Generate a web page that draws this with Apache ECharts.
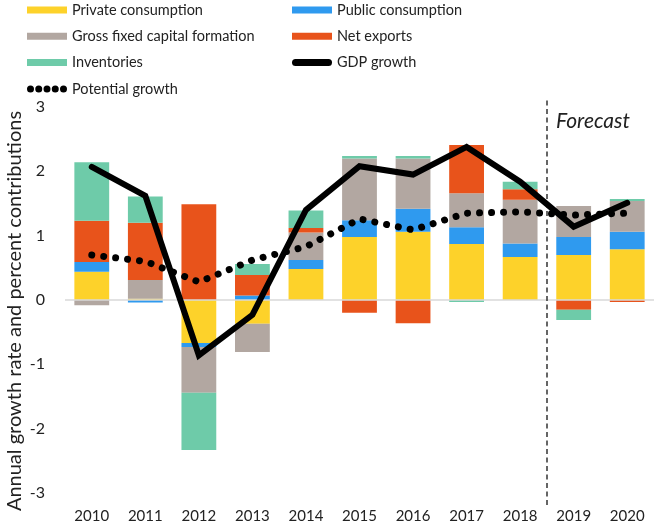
<!DOCTYPE html>
<html>
<head>
<meta charset="utf-8">
<script src="https://cdn.jsdelivr.net/npm/echarts@6/dist/echarts.min.js"></script>
<style>
html,body{margin:0;padding:0;background:#fff;}
#chart{width:660px;height:528px;}
</style>
</head>
<body>
<div id="chart"></div>
<script>
const years = ['2010','2011','2012','2013','2014','2015','2016','2017','2018','2019','2020'];
const privateConsumption = [0.44, 0.02, -0.67, -0.37, 0.48, 0.98, 1.06, 0.87, 0.67, 0.70, 0.79];
const publicConsumption  = [0.15, -0.04, -0.06, 0.07, 0.14, 0.26, 0.36, 0.26, 0.21, 0.28, 0.27];
const grossFixedCapital  = [-0.08, 0.29, -0.71, -0.44, 0.43, 0.96, 0.78, 0.53, 0.68, 0.48, 0.48];
const netExports         = [0.64, 0.89, 1.49, 0.32, 0.07, -0.20, -0.36, 0.75, 0.16, -0.15, -0.03];
const inventories        = [0.91, 0.41, -0.89, 0.17, 0.27, 0.04, 0.04, -0.03, 0.12, -0.16, 0.03];
const gdpGrowth          = [2.07, 1.62, -0.86, -0.23, 1.40, 2.08, 1.95, 2.38, 1.84, 1.14, 1.51];
const potentialGrowth    = [0.70, 0.60, 0.28, 0.62, 0.83, 1.26, 1.09, 1.35, 1.37, 1.32, 1.35];
const yTicks = [-3, -2, -1, 0, 1, 2, 3];
const forecastBoundary = 8.5; // between 2018 and 2019

const FONT = 'Lato';
const colors = {
  priv: '#FDD22A', pub: '#2F9AEF', gfcf: '#B2A7A1', net: '#E8531B', inv: '#6ECBA9'
};

const chart = echarts.init(document.getElementById('chart'));

const capsule = 'path://M3.5,0 H36.5 A3.5,3.5 0 0 1 36.5,7 H3.5 A3.5,3.5 0 0 1 3.5,0 Z';
const dots = 'path://M0,3.5 A3.5,3.5 0 1 0 7,3.5 A3.5,3.5 0 1 0 0,3.5 Z' +
  'M8.25,3.5 A3.5,3.5 0 1 0 15.25,3.5 A3.5,3.5 0 1 0 8.25,3.5 Z' +
  'M16.5,3.5 A3.5,3.5 0 1 0 23.5,3.5 A3.5,3.5 0 1 0 16.5,3.5 Z' +
  'M24.75,3.5 A3.5,3.5 0 1 0 31.75,3.5 A3.5,3.5 0 1 0 24.75,3.5 Z' +
  'M33,3.5 A3.5,3.5 0 1 0 40,3.5 A3.5,3.5 0 1 0 33,3.5 Z';

const legendCommon = {
  orient: 'vertical',
  itemWidth: 40,
  itemHeight: 7,
  itemGap: 6.3,
  itemStyle: { borderWidth: 0 },
  selectedMode: false,
  textStyle: { fontFamily: FONT, fontSize: 14.5, color: '#222', lineHeight: 20 },
  padding: 0
};

function bar(name, data, color) {
  return {
    name, type: 'bar', stack: 'contrib', data,
    barWidth: '65%',
    itemStyle: { color },
    emphasis: { disabled: true }
  };
}

const option = {
  animation: false,
  textStyle: { fontFamily: FONT },
  legend: [
    Object.assign({}, legendCommon, {
      left: 27, top: 0,
      data: [
        { name: 'Private consumption', icon: 'rect' },
        { name: 'Gross fixed capital formation', icon: 'rect' },
        { name: 'Inventories', icon: 'rect' },
        { name: 'Potential growth', icon: dots }
      ]
    }),
    Object.assign({}, legendCommon, {
      left: 292, top: 0,
      data: [
        { name: 'Public consumption', icon: 'rect' },
        { name: 'Net exports', icon: 'rect' },
        { name: 'GDP growth', icon: capsule }
      ]
    })
  ],
  grid: [
    { left: 65, right: 6, top: 107, bottom: 35 },
    { left: 65, right: 6, top: 100, bottom: 23 }
  ],
  xAxis: [
    {
      type: 'category', data: years, gridIndex: 0,
      axisLine: { show: false }, axisTick: { show: false },
      axisLabel: { fontFamily: FONT, fontSize: 15, color: '#222', margin: 16 }
    },
    { type: 'value', gridIndex: 1, min: -0.5, max: 10.5, show: false }
  ],
  yAxis: [
    {
      type: 'value', gridIndex: 0, min: yTicks[0], max: yTicks[yTicks.length - 1], interval: 1,
      axisLine: { show: false }, axisTick: { show: false }, splitLine: { show: false },
      axisLabel: { fontFamily: FONT, fontSize: 16, color: '#222', margin: 20 }
    },
    { type: 'value', gridIndex: 1, min: 0, max: 1, show: false }
  ],
  graphic: [
    {
      type: 'text', left: 556, top: 111,
      style: { text: 'Forecast', font: 'italic 21px ' + FONT, fill: '#222' }
    },
    {
      type: 'text', x: 15, y: 311, rotation: Math.PI / 2,
      style: {
        text: 'Annual growth rate and percent contributions',
        font: '20px ' + FONT, fill: '#222', align: 'center', verticalAlign: 'middle'
      }
    }
  ],
  series: [
    Object.assign(bar('Private consumption', privateConsumption, colors.priv), {
      markLine: {
        silent: true, symbol: 'none', label: { show: false },
        lineStyle: { color: '#d9d9d9', width: 1.5, type: 'solid' },
        data: [{ yAxis: 0 }]
      }
    }),
    bar('Public consumption', publicConsumption, colors.pub),
    bar('Gross fixed capital formation', grossFixedCapital, colors.gfcf),
    bar('Net exports', netExports, colors.net),
    bar('Inventories', inventories, colors.inv),
    {
      name: 'GDP growth', type: 'line', data: gdpGrowth,
      color: '#000', symbol: 'none', z: 5,
      lineStyle: { color: '#000', width: 6, cap: 'round', join: 'miter' }
    },
    {
      name: 'Potential growth', type: 'line', data: potentialGrowth,
      color: '#000', symbol: 'none', z: 6,
      lineStyle: { color: '#000', width: 7, type: [0.01, 12], cap: 'round' }
    },
    {
      name: 'boundary', type: 'line', xAxisIndex: 1, yAxisIndex: 1, data: [],
      markLine: {
        silent: true, symbol: 'none', label: { show: false },
        lineStyle: { color: '#333', width: 1.5, type: [5, 3.5] },
        data: [{ xAxis: forecastBoundary }]
      }
    }
  ]
};
chart.setOption(option);
</script>
</body>
</html>
